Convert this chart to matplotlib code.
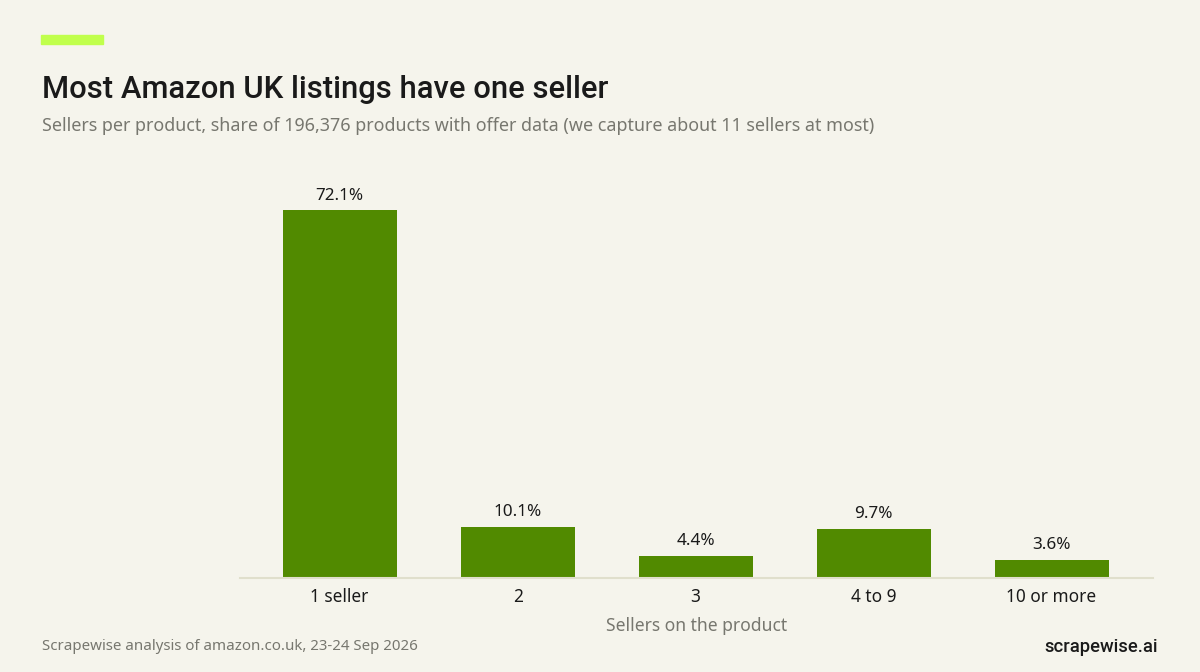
import matplotlib.pyplot as plt
from matplotlib.patches import Rectangle

categories = ['1 seller', '2', '3', '4 to 9', '10 or more']
shares = [72.1, 10.1, 4.4, 9.7, 3.6]

BG = '#f5f4ec'
GREEN = '#518a00'
DARK = '#1a1a1a'
GREY = '#77776f'

plt.rcParams['font.family'] = ['Noto Sans', 'DejaVu Sans']
HEAD = ['Roboto', 'Lato', 'DejaVu Sans']

fig = plt.figure(figsize=(12, 6.72), dpi=100, facecolor=BG)
W, H = 1200, 672

# axes placed in pixel terms: x 240..1153, y 160..578 (from top)
ax = fig.add_axes([240 / W, 1 - 578 / H, (1153 - 240) / W, (578 - 160) / H])
ax.set_facecolor(BG)

x = range(len(categories))
bars = ax.bar(x, shares, width=0.64, color=GREEN, zorder=2)
ax.set_xlim(-0.56, 4.57)
ax.set_ylim(0, 82)

for b, v in zip(bars, shares):
    ax.annotate(f'{v:.1f}%', (b.get_x() + b.get_width() / 2, v),
                xytext=(0, 5), textcoords='offset points',
                ha='center', va='bottom', fontsize=12.3, color=DARK)

ax.set_xticks(list(x))
ax.set_xticklabels(categories, fontsize=12.4, color=DARK)
ax.tick_params(axis='x', length=0, pad=7)
ax.set_yticks([])
for s in ['top', 'right', 'left']:
    ax.spines[s].set_visible(False)
ax.spines['bottom'].set_color('#e0dfcc')
ax.spines['bottom'].set_linewidth(1.5)
ax.set_xlabel('Sellers on the product', fontsize=12.6, color=GREY, labelpad=8)

# accent bar
fig.patches.append(Rectangle((41 / W, 1 - 44 / H), 62 / W, 9 / H,
                             transform=fig.transFigure, color='#c0ff4c'))

fig.text(42 / W, 1 - 89 / H, 'Most Amazon UK listings have one seller',
         fontsize=22.3, fontweight='medium', family=HEAD, color=DARK, va='center', ha='left')
fig.text(42 / W, 1 - 126 / H,
         'Sellers per product, share of 196,376 products with offer data (we capture about 11 sellers at most)',
         fontsize=12.9, color=GREY, va='center', ha='left')

fig.text(42 / W, 1 - 647 / H, 'Scrapewise analysis of amazon.co.uk, 23-24 Sep 2026',
         fontsize=10.85, color=GREY, va='center', ha='left')
fig.text(1158 / W, 1 - 647 / H, 'scrapewise.ai',
         fontsize=13.2, fontweight='medium', family=HEAD, color=DARK, va='center', ha='right')

fig.savefig('out.png', dpi=100, facecolor=BG)
